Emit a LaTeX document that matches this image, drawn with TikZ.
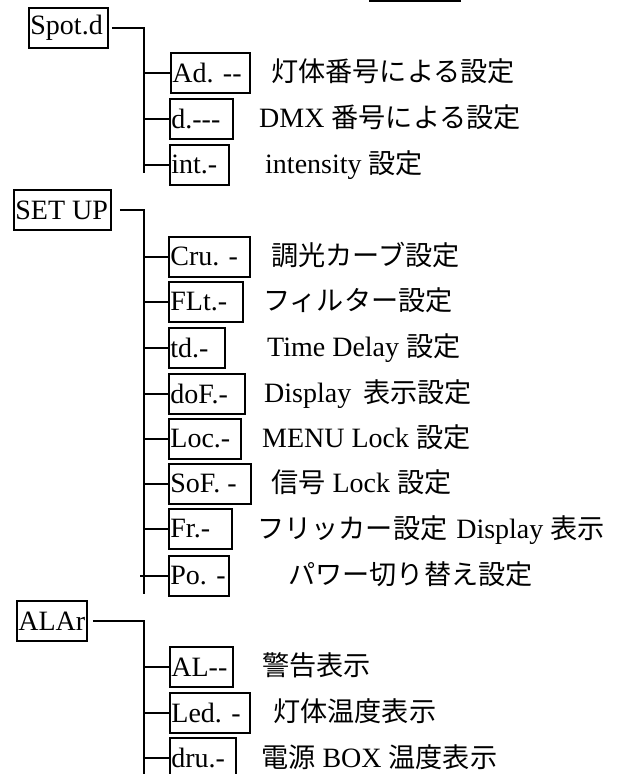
\documentclass[tikz,border=0pt]{standalone}
\usepackage{fontspec}
\setmainfont{Liberation Serif}
\newfontfamily\jp{Noto Sans CJK JP}[Scale=0.97]
\newcommand\bxt[2]{\makebox[#1pt][l]{#2}}
\begin{document}
\begin{tikzpicture}[x=1pt,y=-1pt,
  ibox/.style={draw, line width=1.8pt, anchor=north west, inner xsep=1.5pt, inner ysep=0pt,
    minimum height=40pt, font=\fontsize{28}{30}\selectfont},
  desc/.style={anchor=base west, inner sep=0pt, font=\fontsize{28}{30}\selectfont},
  wire/.style={line width=1.8pt}]
\useasboundingbox (0,0) rectangle (617,774);
\clip (0,0) rectangle (617,774);
% partial bar at the top
\coordinate (bara) at (369,1);
\coordinate (barb) at (461,1);
\draw[line width=2.2pt] (bara) -- (barb);

% ---- group 1
\node[ibox] (spot) at (28,7) {\bxt{76}{Spot.d}};
\node[ibox] (ad) at (170,52) {\bxt{76}{Ad. -{}-}};
\node[ibox] (d) at (169,98) {\bxt{60}{d.-{}-{}-}};
\node[ibox] (int) at (169,144) {\bxt{56}{int.-}};
\coordinate (t1b) at (144,173);
\draw[wire] ([xshift=3pt]spot.east) -| (t1b);
\foreach \n in {ad,d,int} \draw[wire] (\n.west -| t1b) -- (\n.west);
\node[desc] (adt) at (271,81.5) {\jp 灯体番号による設定};
\node[desc] (dt) at (259,127) {DMX {\jp 番号による設定}};
\node[desc] (intt) at (265,173.5) {intensity {\jp 設定}};

% ---- group 2
\node[ibox] (setup) at (13,189) {\bxt{94}{SET UP}};
\node[ibox] (cru) at (168,236) {\bxt{78}{Cru. -}};
\node[ibox] (flt) at (168,281) {\bxt{71}{FLt.-}};
\node[ibox] (td) at (168,327) {\bxt{53}{td.-}};
\node[ibox] (dof) at (168,373) {\bxt{73}{doF.-}};
\node[ibox] (loc) at (168,418) {\bxt{69}{Loc.-}};
\node[ibox] (sof) at (168,463) {\bxt{79}{SoF. -}};
\node[ibox] (fr) at (168,508) {\bxt{60}{Fr.-}};
\node[ibox] (po) at (168,555) {\bxt{57}{Po. -}};
\coordinate (t2b) at (144,594);
\draw[wire] ([xshift=8pt]setup.east) -| (t2b);
\foreach \n in {cru,flt,td,dof,loc,sof,fr} \draw[wire] (\n.west -| t2b) -- (\n.west);
\draw[wire] ([xshift=-4pt]po.west -| t2b) -- (po.west);
\node[desc] (crut) at (271,265) {\jp 調光カーブ設定};
\node[desc] (fltt) at (263,310.5) {\jp フィルター設定};
\node[desc] (tdt) at (267,356) {Time Delay {\jp 設定}};
\node[desc] (doft) at (264,402) {Display\hspace{12pt}{\jp 表示設定}};
\node[desc] (loct) at (262,447) {MENU Lock {\jp 設定}};
\node[desc] (soft) at (271,492.5) {{\jp 信号} Lock {\jp 設定}};
\node[desc] (frt) at (257,538) {{\jp フリッカー設定}\hspace{9pt}Display {\jp 表示}};
\node[desc] (pot) at (288,584) {\jp パワー切り替え設定};

% ---- group 3
\node[ibox] (alar) at (16,600) {\bxt{67}{ALAr}};
\node[ibox] (al) at (169,646) {\bxt{60}{AL-{}-}};
\node[ibox] (led) at (169,692) {\bxt{77}{Led. -}};
\node[ibox] (dru) at (169,737) {\bxt{63}{dru.-}};
\coordinate (t3b) at (144,790);
\draw[wire] ([xshift=5pt]alar.east) -| (t3b);
\foreach \n in {al,led,dru} \draw[wire] (\n.west -| t3b) -- (\n.west);
\node[desc] (alt) at (262,675) {\jp 警告表示};
\node[desc] (ledt) at (273,721) {\jp 灯体温度表示};
\node[desc] (drut) at (261,767) {{\jp 電源} BOX {\jp 温度表示}};
\end{tikzpicture}
\end{document}
